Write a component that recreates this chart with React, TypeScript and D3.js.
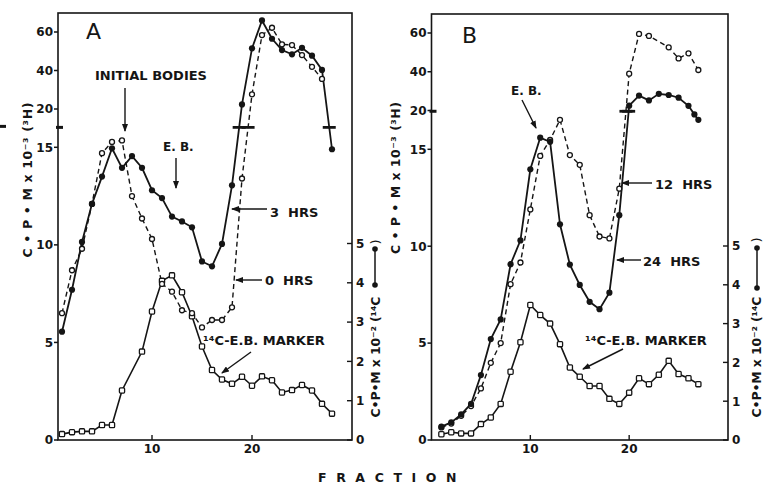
import * as d3 from 'd3';
import { useEffect, useRef } from 'react';

// Tick values. The 3H axis has a break above 15: 0–15 is linear, 20–60 is compressed.
const leftTicks = [0, 5, 10, 15, 20, 40, 60];
const rightTicks = [0, 1, 2, 3, 4, 5];
const fractionTicks = [10, 20];

// Panel A: 3 HRS (filled circles, solid line), C.P.M x 10^-3
const fracA3h = [1, 2, 3, 4, 5, 6, 7, 8, 9, 10, 11, 12, 13, 14, 15, 16, 17, 18, 19, 20, 21, 22, 23, 24, 25, 26, 27, 28];
const cpmA3h = [5.55, 7.7, 10.15, 12.1, 13.5, 14.95, 13.95, 14.55, 13.95, 12.8, 12.4, 11.45, 11.2, 10.9, 9.15, 8.9, 10.05, 13.05, 22.4, 51.5, 66, 56.5, 50.6, 48.4, 51.8, 47.7, 40.3, 14.9];
// Panel A: 0 HRS (open circles, dashed line)
const fracA0h = [1, 2, 3, 4, 5, 6, 7, 8, 9, 10, 11, 12, 13, 14, 15, 16, 17, 18, 19, 20, 21, 22, 23, 24, 25, 26, 27];
const cpmA0h = [6.5, 8.7, 9.8, 12.1, 14.7, 15.7, 15.9, 12.5, 11.35, 10.3, 8.0, 7.6, 6.65, 6.5, 5.77, 6.15, 6.15, 6.8, 13.4, 27.6, 58.4, 62.2, 53.6, 53.2, 48, 41.9, 35.6];
// Panel A: 14C-E.B. marker (squares), C.P.M x 10^-2
const fracAMarker = [1, 2, 3, 4, 5, 6, 7, 9, 10, 11, 12, 13, 14, 15, 16, 17, 18, 19, 20, 21, 22, 23, 24, 25, 26, 27, 28];
const cpmAMarker = [0.15, 0.2, 0.22, 0.22, 0.38, 0.38, 1.26, 2.25, 3.27, 4.05, 4.19, 3.76, 3.15, 2.38, 1.78, 1.54, 1.43, 1.61, 1.38, 1.62, 1.52, 1.21, 1.27, 1.4, 1.26, 0.92, 0.67];

// Panel B: 24 HRS (filled circles, solid line)
const fracB24h = [1, 2, 3, 4, 5, 6, 7, 8, 9, 10, 11, 12, 13, 14, 15, 16, 17, 18, 19, 20, 21, 22, 23, 24, 25, 26, 26.6, 27];
const cpmB24h = [0.69, 0.91, 1.32, 1.86, 3.35, 5.21, 6.22, 9.07, 10.3, 13.97, 16.5, 15.96, 11.13, 9.05, 8.0, 7.13, 6.75, 7.6, 11.6, 22.5, 27.7, 25.2, 28.6, 28.0, 26.6, 22.4, 19.5, 18.8];
// Panel B: 12 HRS (open circles, dashed line)
const fracB12h = [1, 2, 3, 4, 5, 6, 7, 8, 9, 10, 11, 12, 13, 14, 15, 16, 17, 18, 19, 20, 21, 22, 24, 25, 26, 27];
const cpmB12h = [0.65, 0.85, 1.25, 1.75, 2.66, 3.98, 5.0, 8.04, 9.16, 11.9, 14.66, 16.2, 18.8, 14.7, 14.2, 11.6, 10.5, 10.4, 12.97, 39, 59.5, 58.5, 52.6, 46.9, 49.5, 40.9];
// Panel B: 14C-E.B. marker
const fracBMarker = [1, 2, 3, 4, 5, 6, 7, 8, 9, 10, 11, 12, 13, 14, 15, 16, 17, 18, 19, 20, 21, 22, 23, 24, 25, 26, 27];
const cpmBMarker = [0.15, 0.2, 0.17, 0.17, 0.41, 0.58, 0.93, 1.76, 2.52, 3.48, 3.22, 3.0, 2.47, 1.87, 1.63, 1.39, 1.39, 1.06, 0.93, 1.22, 1.59, 1.44, 1.68, 2.04, 1.7, 1.59, 1.44];

const zip = (f: number[], v: number[]) => f.map((d, i) => ({ f: d, v: v[i] }));

const FONT = '"DejaVu Sans", sans-serif';
const INK = '#151515';

const panels = [
  {
    name: 'A', nameX: 86, nameY: 39,
    xRange: [52, 352], frameLeft: 58, frameRight: 352, top: 13,
    yRange: [440, 147.3, 109, 32], y14Range: [440, 243.5],
    solid: zip(fracA3h, cpmA3h), dashed: zip(fracA0h, cpmA0h), marker: zip(fracAMarker, cpmAMarker),
    breakValue: 17.6,
    breaks: [{ series: 'solid', after: 18 }, { series: 'dashed', after: 19 }, { series: 'solid', after: 27 }],
    edgeMark: true,
    leftTitle: { x: 32, y: 180, len: 155 },
    rightTitle: { x: 380, y: 357, len: 121, dotX: 375, dots: [249, 285], parenY: 242 },
    notes: [
      { text: 'INITIAL BODIES', x: 95, y: 80, size: 13, arrow: [125, 88, 125, 131] },
      { text: 'E. B.', x: 163, y: 151, size: 12, arrow: [176, 158, 176, 188] },
      { text: '3  HRS', x: 270, y: 217, size: 13, arrow: [267, 209, 232, 209] },
      { text: '0  HRS', x: 265, y: 285, size: 13, arrow: [262, 280, 236, 280] },
      { text: '¹⁴C-E.B. MARKER', x: 203, y: 345, size: 13, arrow: [251, 352, 222, 373] },
    ],
  },
  {
    name: 'B', nameX: 462, nameY: 43,
    xRange: [431.5, 728], frameLeft: 431.5, frameRight: 728, top: 14,
    yRange: [440, 149.3, 110.5, 33], y14Range: [440, 246],
    solid: zip(fracB24h, cpmB24h), dashed: zip(fracB12h, cpmB12h), marker: zip(fracBMarker, cpmBMarker),
    breakValue: 19.9,
    breaks: [{ series: 'solid', after: 19 }, { series: 'dashed', after: 19 }],
    edgeMark: false,
    leftTitle: { x: 400, y: 178, len: 152 },
    rightTitle: { x: 761, y: 357, len: 121, dotX: 757, dots: [248, 288], parenY: 240 },
    notes: [
      { text: 'E. B.', x: 511, y: 95, size: 12, arrow: [522, 100, 536, 128] },
      { text: '12  HRS', x: 655, y: 189, size: 13, arrow: [652, 183, 622, 183] },
      { text: '24  HRS', x: 643, y: 266, size: 13, arrow: [641, 260, 617, 260] },
      { text: '¹⁴C-E.B. MARKER', x: 585, y: 345, size: 13, arrow: [623, 349, 583, 369] },
    ],
  },
];

function drawPanel(svg, p) {
  const x = d3.scaleLinear([0, 30], p.xRange);
  const y = d3.scaleLinear([0, 15, 20, 60], p.yRange);
  const y14 = d3.scaleLinear([0, 5], p.y14Range);
  const bottom = y(0);
  const g = svg.append('g');

  // frame
  g.append('rect')
    .attr('x', p.frameLeft).attr('y', p.top)
    .attr('width', p.frameRight - p.frameLeft).attr('height', bottom - p.top)
    .attr('fill', 'none').attr('stroke', INK).attr('stroke-width', 1.6);

  g.append('text')
    .attr('x', p.nameX).attr('y', p.nameY)
    .attr('font-family', FONT).attr('font-size', 22).attr('fill', INK)
    .text(p.name);

  // left (3H) axis
  leftTicks.forEach(t => {
    g.append('line')
      .attr('x1', p.frameLeft - 4).attr('x2', p.frameLeft)
      .attr('y1', y(t)).attr('y2', y(t))
      .attr('stroke', INK).attr('stroke-width', 1.5);
    g.append('text')
      .attr('x', p.frameLeft - 5).attr('y', y(t)).attr('dy', '0.36em')
      .attr('text-anchor', 'end')
      .attr('font-family', FONT).attr('font-weight', 'bold').attr('font-size', 12).attr('fill', INK)
      .text(t);
  });

  // right (14C) axis, ticks inside
  rightTicks.forEach(t => {
    g.append('line')
      .attr('x1', p.frameRight - 5).attr('x2', p.frameRight)
      .attr('y1', y14(t)).attr('y2', y14(t))
      .attr('stroke', INK).attr('stroke-width', 1.4);
    g.append('text')
      .attr('x', p.frameRight + 4).attr('y', y14(t)).attr('dy', '0.36em')
      .attr('font-family', FONT).attr('font-weight', 'bold').attr('font-size', 12).attr('fill', INK)
      .text(t);
  });

  // fraction axis, ticks inside
  fractionTicks.forEach(t => {
    g.append('line')
      .attr('x1', x(t)).attr('x2', x(t))
      .attr('y1', bottom - 5).attr('y2', bottom)
      .attr('stroke', INK).attr('stroke-width', 1.4);
    g.append('text')
      .attr('x', x(t)).attr('y', bottom + 12.5)
      .attr('text-anchor', 'middle')
      .attr('font-family', FONT).attr('font-weight', 'bold').attr('font-size', 12).attr('fill', INK)
      .text(t);
  });

  // axis break marks
  const yb = y(p.breakValue);
  g.append('line')
    .attr('x1', p.frameLeft - 2).attr('x2', p.frameLeft + 5)
    .attr('y1', yb).attr('y2', yb)
    .attr('stroke', INK).attr('stroke-width', 3);
  if (p.edgeMark) {
    g.append('line')
      .attr('x1', 0).attr('x2', 6).attr('y1', yb - 1).attr('y2', yb - 1)
      .attr('stroke', INK).attr('stroke-width', 3);
  }

  // axis titles
  const lt = p.leftTitle;
  g.append('text')
    .attr('transform', `translate(${lt.x},${lt.y}) rotate(-90)`)
    .attr('text-anchor', 'middle')
    .attr('textLength', lt.len).attr('lengthAdjust', 'spacing')
    .attr('font-family', FONT).attr('font-weight', 'bold').attr('font-size', 12.5).attr('fill', INK)
    .text('C • P • M x 10⁻³ (³H)');

  const rt = p.rightTitle;
  g.append('text')
    .attr('transform', `translate(${rt.x},${rt.y}) rotate(-90)`)
    .attr('text-anchor', 'middle')
    .attr('textLength', rt.len).attr('lengthAdjust', 'spacing')
    .attr('font-family', FONT).attr('font-weight', 'bold').attr('font-size', 12.5).attr('fill', INK)
    .text('C•P•M x 10⁻² (¹⁴C');
  g.append('line')
    .attr('x1', rt.dotX).attr('x2', rt.dotX).attr('y1', rt.dots[0]).attr('y2', rt.dots[1])
    .attr('stroke', INK).attr('stroke-width', 1.5);
  rt.dots.forEach(d => g.append('circle').attr('cx', rt.dotX).attr('cy', d).attr('r', 2.8).attr('fill', INK));
  g.append('text')
    .attr('transform', `translate(${rt.x},${rt.parenY}) rotate(-90)`)
    .attr('text-anchor', 'middle')
    .attr('font-family', FONT).attr('font-size', 13).attr('fill', INK)
    .text(')');

  // series lines
  const line = d3.line().x(d => x(d.f)).y(d => y(d.v));
  const line14 = d3.line().x(d => x(d.f)).y(d => y14(d.v));

  g.append('path').attr('d', line14(p.marker))
    .attr('fill', 'none').attr('stroke', INK).attr('stroke-width', 1.6);
  g.append('path').attr('d', line(p.dashed))
    .attr('fill', 'none').attr('stroke', INK).attr('stroke-width', 1.4)
    .attr('stroke-dasharray', '5,3.5');
  g.append('path').attr('d', line(p.solid))
    .attr('fill', 'none').attr('stroke', INK).attr('stroke-width', 1.8);

  // break bars on the curves
  p.breaks.forEach(b => {
    const data = p[b.series];
    const i = data.findIndex(d => d.f === b.after);
    const p0 = [x(data[i].f), y(data[i].v)];
    const p1 = [x(data[i + 1].f), y(data[i + 1].v)];
    const t = (p0[1] - yb) / (p0[1] - p1[1]);
    const xb = p0[0] + t * (p1[0] - p0[0]);
    g.append('line')
      .attr('x1', xb - 6.5).attr('x2', xb + 6.5).attr('y1', yb).attr('y2', yb)
      .attr('stroke', INK).attr('stroke-width', 2.8);
  });

  // symbols
  g.append('g').selectAll('rect').data(p.marker).join('rect')
    .attr('x', d => x(d.f) - 2.6).attr('y', d => y14(d.v) - 2.6)
    .attr('width', 5.2).attr('height', 5.2).attr('rx', 1)
    .attr('fill', 'white').attr('stroke', INK).attr('stroke-width', 1.3);
  g.append('g').selectAll('circle').data(p.dashed).join('circle')
    .attr('cx', d => x(d.f)).attr('cy', d => y(d.v)).attr('r', 2.5)
    .attr('fill', 'white').attr('stroke', INK).attr('stroke-width', 1.3);
  g.append('g').selectAll('circle').data(p.solid).join('circle')
    .attr('cx', d => x(d.f)).attr('cy', d => y(d.v)).attr('r', 3.1)
    .attr('fill', INK);

  // annotations
  p.notes.forEach(n => {
    g.append('text')
      .attr('x', n.x).attr('y', n.y)
      .attr('font-family', FONT).attr('font-weight', 'bold').attr('font-size', n.size).attr('fill', INK)
      .style('white-space', 'pre')
      .text(n.text);
    const [x1, y1, x2, y2] = n.arrow;
    g.append('line')
      .attr('x1', x1).attr('y1', y1).attr('x2', x2).attr('y2', y2)
      .attr('stroke', INK).attr('stroke-width', 1.4)
      .attr('marker-end', 'url(#arrowhead)');
  });
}

export default function App() {
  const svgRef = useRef(null);

  useEffect(() => {
    const svg = d3.select(svgRef.current);
    svg.selectAll('*').remove();

    svg.append('rect').attr('width', 765).attr('height', 484).attr('fill', 'white');

    svg.append('defs').append('marker')
      .attr('id', 'arrowhead')
      .attr('viewBox', '0 0 8 6')
      .attr('refX', 7).attr('refY', 3)
      .attr('markerWidth', 8).attr('markerHeight', 6)
      .attr('markerUnits', 'userSpaceOnUse')
      .attr('orient', 'auto')
      .append('path').attr('d', 'M0,0L8,3L0,6Z').attr('fill', INK);

    panels.forEach(p => drawPanel(svg, p));

    // shared x-axis title
    svg.append('text')
      .attr('x', 318).attr('y', 482)
      .attr('font-family', FONT).attr('font-weight', 'bold').attr('font-size', 12.5)
      .attr('letter-spacing', 9.6).attr('fill', INK)
      .text('FRACTION');
  }, []);

  return (
    <svg
      ref={svgRef}
      width={765}
      height={484}
      viewBox="0 0 765 484"
      style={{ position: 'absolute', left: 0, top: 0, display: 'block' }}
    />
  );
}
